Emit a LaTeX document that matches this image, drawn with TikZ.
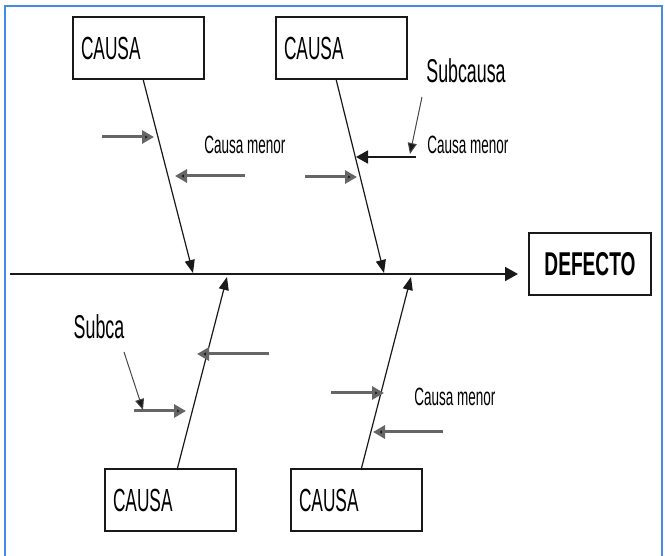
\documentclass[tikz,border=0pt]{standalone}
\usepackage{fontspec}
\newfontfamily\nf[FakeStretch=0.54]{Liberation Sans}
\newfontfamily\nfb[FakeStretch=0.58]{Liberation Sans Bold}
\usetikzlibrary{arrows.meta}
\definecolor{frameblue}{RGB}{70,140,230}
\definecolor{ink}{RGB}{25,25,25}
\begin{document}
\begin{tikzpicture}[x=1pt,y=-1pt,
  box/.style={draw=ink, line width=1.4pt, rectangle, minimum height=62pt, text width=115pt, inner xsep=8pt, align=left, font=\nf\fontsize{32}{32}\selectfont},
  bone/.style={draw=ink, line width=1.2pt, -{Triangle[length=13pt,width=10pt]}},
  twig/.style={draw=black!60, line width=3pt, -{Triangle[length=12pt,width=13pt,fill=ink]}},
  sub/.style={draw=ink!80, line width=1pt, -{Triangle[length=11pt,width=9pt,fill=ink]}},
  lbl/.style={font=\nf\fontsize{25}{25}\selectfont, inner sep=0pt},
  lblbig/.style={font=\nf\fontsize{33}{33}\selectfont, inner sep=0pt}]
\useasboundingbox (0,0) rectangle (665,556);
% frame
\draw[frameblue, line width=2pt] (5,556) -- (5,6) -- (662,6) -- (662,556);
% boxes
\node[box] (t1) at (138.5,48) {CAUSA};
\node[box] (t2) at (341.5,48) {CAUSA};
\node[box] (b1) at (170.5,500) {CAUSA};
\node[box] (b2) at (356.5,500) {CAUSA};
\node[draw=ink, line width=1.4pt, minimum width=122pt, minimum height=62pt, inner sep=0pt,
  font=\nfb\fontsize{33}{33}\selectfont] (def) at (590,264) {DEFECTO};
% spine
\coordinate (s0) at (10,274);
\coordinate (s1) at (518,274);
\draw[draw=ink, line width=2pt, -{Triangle[length=13pt,width=14pt]}] (s0) -- (s1);
% bones
\coordinate (t1s) at (143,79); \coordinate (t1e) at (193,273);
\coordinate (t2s) at (336,79); \coordinate (t2e) at (384,273);
\coordinate (b1s) at (177,470); \coordinate (b1e) at (227,277);
\coordinate (b2s) at (361,470); \coordinate (b2e) at (411,277);
\draw[bone] (t1s) -- (t1e);
\draw[bone] (t2s) -- (t2e);
\draw[bone] (b1s) -- (b1e);
\draw[bone] (b2s) -- (b2e);
% twigs top
\coordinate (a1) at (102,137); \coordinate (a1e) at (154,137);
\coordinate (a2) at (245,176); \coordinate (a2e) at (175,176);
\coordinate (a3) at (305,177); \coordinate (a3e) at (357,177);
\coordinate (a4) at (416,157); \coordinate (a4e) at (356,157);
\draw[twig] (a1) -- (a1e);
\draw[twig] (a2) -- (a2e);
\draw[twig] (a3) -- (a3e);
\draw[twig, draw=ink, line width=1.8pt] (a4) -- (a4e);
% twigs bottom
\coordinate (c1) at (269,354); \coordinate (c1e) at (197,354);
\coordinate (c2) at (134,411); \coordinate (c2e) at (186,411);
\coordinate (c3) at (331,393); \coordinate (c3e) at (384,393);
\coordinate (c4) at (443,432); \coordinate (c4e) at (373,432);
\draw[twig] (c1) -- (c1e);
\draw[twig] (c2) -- (c2e);
\draw[twig] (c3) -- (c3e);
\draw[twig] (c4) -- (c4e);
% labels
\node[lbl] (m1) at (245,145) {Causa menor};
\node[lbl] (m2) at (468,145) {Causa menor};
\node[lbl] (m3) at (455,397) {Causa menor};
\node[lblbig] (sc) at (466,71) {Subcausa};
\node[lblbig] (sb) at (99,327) {Subca};
% sub arrows
\coordinate (sc0) at (422,97); \coordinate (sc1) at (410,154);
\coordinate (sb0) at (124,352); \coordinate (sb1) at (143,410);
\draw[sub] (sc0) -- (sc1);
\draw[sub] (sb0) -- (sb1);
\end{tikzpicture}
\end{document}
